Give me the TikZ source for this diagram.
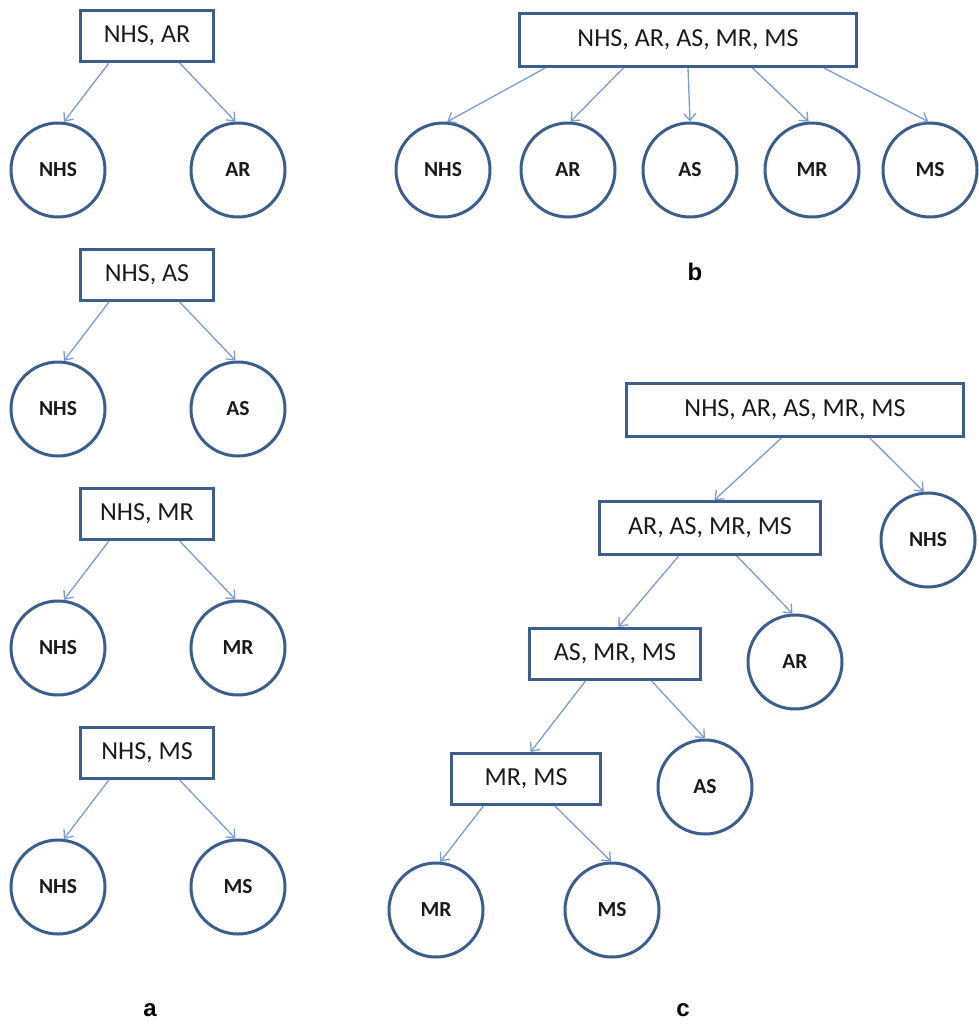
\documentclass[tikz,border=0pt]{standalone}
\usepackage{fontspec}
\setmainfont{Carlito}
\newfontfamily\labfont{Liberation Sans}
\usetikzlibrary{arrows.meta,calc}
\definecolor{edgeblue}{HTML}{3B5E8C}
\definecolor{arrowblue}{HTML}{7A9CD0}
\definecolor{txt}{HTML}{1A1A1A}
\begin{document}
\begin{tikzpicture}[x=1pt,y=-1pt,
  setbox/.style={draw=edgeblue, line width=3pt, fill=white, text=txt,
    font=\fontsize{26}{30}\selectfont, inner sep=0pt, anchor=center},
  leaf/.style={circle, draw=edgeblue, line width=3pt, fill=white, minimum size=94pt,
    inner sep=0pt, text=txt, font=\fontsize{21.5}{25}\selectfont\bfseries},
  link/.style={draw=arrowblue, line width=1.3pt, -{Straight Barb[length=7pt,width=12pt]}},
  panel/.style={font=\labfont\fontsize{24}{28}\selectfont\bfseries, text=black}]
\useasboundingbox (0,0) rectangle (979,1025);

% ---------- panel a ----------
\foreach \dy/\lab/\n in {0/AR/1, 239/AS/2, 478/MR/3, 717/MS/4}{
  \node[setbox, minimum width=133pt, minimum height=51pt] (abox\n) at (147,{36+\dy}) {NHS, \lab};
  \node[leaf] (anhs\n) at (58,{170+\dy}) {NHS};
  \node[leaf] (aleaf\n) at (238,{170+\dy}) {\lab};
  \draw[link] ($(abox\n.south west)!0.22!(abox\n.south east)$) -- (anhs\n.83);
  \draw[link] ($(abox\n.south west)!0.74!(abox\n.south east)$) -- (aleaf\n.93);
}
\node[panel] (alab) at (150,1010) {a};

% ---------- panel b ----------
\node[setbox, minimum width=337pt, minimum height=53pt] (bbox) at (688,40) {NHS, AR, AS, MR, MS};
\foreach \x/\t/\f/\a in {443/NHS/0.08/85, 568/AR/0.31/87, 690/AS/0.5/90, 812/MR/0.69/94, 930/MS/0.9/92}{
  \node[leaf] (b\t) at (\x,170) {\t};
  \draw[link] ($(bbox.south west)!\f!(bbox.south east)$) -- (b\t.\a);
}
\node[panel] (blab) at (695,272) {b};

% ---------- panel c ----------
\node[setbox, minimum width=337pt, minimum height=53pt] (cbox1) at (795,410) {NHS, AR, AS, MR, MS};
\node[leaf] (cnhs) at (928,540) {NHS};
\node[setbox, minimum width=221pt, minimum height=53pt] (cbox2) at (710,528) {AR, AS, MR, MS};
\node[leaf] (car) at (795,662) {AR};
\node[setbox, minimum width=171pt, minimum height=51pt] (cbox3) at (615,654) {AS, MR, MS};
\node[leaf] (cas) at (705,787) {AS};
\node[setbox, minimum width=149pt, minimum height=51pt] (cbox4) at (526,779) {MR, MS};
\node[leaf] (cmr) at (436,910) {MR};
\node[leaf] (cms) at (612,910) {MS};

\draw[link] ($(cbox1.south west)!0.46!(cbox1.south east)$) -- ($(cbox2.north west)!0.52!(cbox2.north east)$);
\draw[link] ($(cbox1.south west)!0.72!(cbox1.south east)$) -- (cnhs.95);
\draw[link] ($(cbox2.south west)!0.36!(cbox2.south east)$) -- ($(cbox3.north west)!0.52!(cbox3.north east)$);
\draw[link] ($(cbox2.south west)!0.62!(cbox2.south east)$) -- (car.93);
\draw[link] ($(cbox3.south west)!0.33!(cbox3.south east)$) -- ($(cbox4.north west)!0.53!(cbox4.north east)$);
\draw[link] ($(cbox3.south west)!0.71!(cbox3.south east)$) -- (cas.90);
\draw[link] ($(cbox4.south west)!0.22!(cbox4.south east)$) -- (cmr.85);
\draw[link] ($(cbox4.south west)!0.69!(cbox4.south east)$) -- (cms.91);
\node[panel] (clab) at (683,1010) {c};
\end{tikzpicture}
\end{document}
